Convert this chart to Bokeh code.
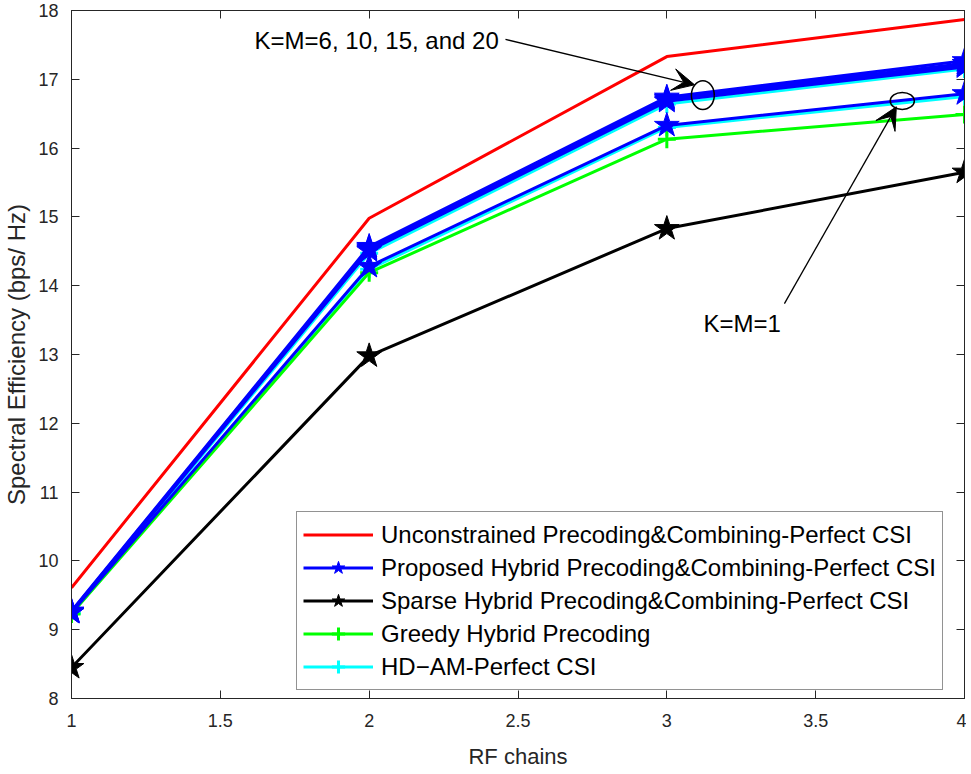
from bokeh.plotting import figure
from bokeh.models import (Range1d, LinearAxis, Legend, LegendItem, Arrow, VeeHead,
                          Label, FixedTicker)
from bokeh.embed import file_html
from bokeh.resources import INLINE

# ---------------- data ----------------
rf_chains = [1, 2, 3, 4]
unconstrained = [9.61, 14.98, 17.33, 17.87]
# proposed hybrid, K=M = 6, 10, 15, 20
proposed_k6 = [9.27, 14.57, 16.74, 17.27]
proposed_k10 = [9.26, 14.55, 16.72, 17.23]
proposed_k15 = [9.26, 14.53, 16.70, 17.20]
proposed_k20 = [9.25, 14.51, 16.68, 17.18]
# proposed hybrid, K=M = 1
proposed_k1 = [9.25, 14.28, 16.33, 16.79]
sparse = [8.45, 12.98, 14.83, 15.65]
greedy = [9.23, 14.19, 16.13, 16.49]
hdam_upper = [9.24, 14.47, 16.64, 17.15]
hdam_k1 = [9.24, 14.24, 16.30, 16.75]

x_ticks = [1, 1.5, 2, 2.5, 3, 3.5, 4]
y_ticks = [8, 9, 10, 11, 12, 13, 14, 15, 16, 17, 18]

labels = ["Unconstrained Precoding&Combining-Perfect CSI",
          "Proposed Hybrid Precoding&Combining-Perfect CSI",
          "Sparse Hybrid Precoding&Combining-Perfect CSI",
          "Greedy Hybrid Precoding",
          "HD\u2212AM-Perfect CSI"]

annot1_text = "K=M=6, 10, 15, and 20"
annot1_pos = (1.615, 17.57)
arrow1 = (2.458, 17.58, 3.093, 16.92)
ellipse1 = (3.121, 16.77, 0.077, 0.42)
annot2_text = "K=M=1"
annot2_pos = (3.123, 13.45)
arrow2 = (3.395, 13.74, 3.771, 16.60)
ellipse2 = (3.791, 16.685, 0.081, 0.247)

FONT = "Liberation Sans"
AX = "#262626"

p = figure(output_backend="svg", toolbar_location=None,
           frame_width=893, frame_height=688,
           min_border_left=68, min_border_top=10, min_border_right=2, min_border_bottom=72,
           x_range=Range1d(1, 4), y_range=Range1d(8, 18),
           background_fill_color="white", border_fill_color="white")
p.grid.visible = False
p.outline_line_color = AX
p.outline_line_width = 1

for ax in [p.xaxis[0], p.yaxis[0]]:
    ax.major_tick_in = 8
    ax.major_tick_out = 0
    ax.minor_tick_line_color = None
    ax.axis_line_color = AX
    ax.major_tick_line_color = AX
    ax.major_label_text_font = FONT
    ax.major_label_text_font_size = "18px"
    ax.major_label_text_color = AX
    ax.axis_label_text_font = FONT
    ax.axis_label_text_font_style = "normal"
    ax.axis_label_text_color = AX

p.xaxis[0].ticker = FixedTicker(ticks=x_ticks)
p.yaxis[0].ticker = FixedTicker(ticks=y_ticks)
p.xaxis[0].axis_label = "RF chains"
p.yaxis[0].axis_label = "Spectral Efficiency (bps/ Hz)"
p.xaxis[0].axis_label_text_font_size = "22px"
p.yaxis[0].axis_label_text_font_size = "24px"
p.xaxis[0].major_label_standoff = 15
p.yaxis[0].major_label_standoff = 13
p.xaxis[0].axis_label_standoff = 14
p.yaxis[0].axis_label_standoff = 5

for loc, tk in [("right", y_ticks), ("above", x_ticks)]:
    a = LinearAxis(ticker=FixedTicker(ticks=tk), major_label_text_color=None,
                   major_tick_in=8, major_tick_out=0, minor_tick_line_color=None,
                   axis_line_color=AX, major_tick_line_color=AX, major_label_standoff=0)
    p.add_layout(a, loc)

LW = 3
r_red = p.line(rf_chains, unconstrained, line_color="red", line_width=LW)

# HD-AM (cyan) first so blue sits on top
cyan_l = []
for series in [hdam_upper, hdam_k1]:
    l = p.line(rf_chains, series, line_color="cyan", line_width=LW)
    s = p.scatter(rf_chains, series, marker="cross", size=18, line_color="cyan", line_width=3)
    cyan_l.append((l, s))

r_green_l = p.line(rf_chains, greedy, line_color="#00ff00", line_width=LW)
r_green_s = p.scatter(rf_chains, greedy, marker="cross", size=18, line_color="#00ff00", line_width=3)

r_black_l = p.line(rf_chains, sparse, line_color="black", line_width=LW)
r_black_s = p.scatter(rf_chains, sparse, marker="star", size=26, line_color="black",
                      fill_color="black", line_width=1)

blue_l = []
for series in [proposed_k1, proposed_k20, proposed_k15, proposed_k10, proposed_k6]:
    l = p.line(rf_chains, series, line_color="blue", line_width=LW)
    s = p.scatter(rf_chains, series, marker="star", size=26, line_color="blue",
                  fill_color="blue", line_width=1)
    blue_l.append((l, s))

# annotations
p.add_layout(Label(x=annot1_pos[0], y=annot1_pos[1], text=annot1_text,
                   text_font=FONT, text_font_size="24px", text_color="black",
                   text_baseline="middle"))
p.add_layout(Label(x=annot2_pos[0], y=annot2_pos[1], text=annot2_text,
                   text_font=FONT, text_font_size="24px", text_color="black",
                   text_baseline="middle"))
for (xs, ys, xe, ye) in [arrow1, arrow2]:
    p.add_layout(Arrow(end=VeeHead(size=22, fill_color="black", line_color="black"),
                       x_start=xs, y_start=ys, x_end=xe, y_end=ye,
                       line_color="black", line_width=1.3))
for (cx, cy, w, h) in [ellipse1, ellipse2]:
    p.ellipse(x=[cx], y=[cy], width=[w], height=[h], fill_color=None,
              line_color="black", line_width=1.5)

items = [
    LegendItem(label=labels[0], renderers=[r_red]),
    LegendItem(label=labels[1], renderers=list(blue_l[0])),
    LegendItem(label=labels[2], renderers=[r_black_l, r_black_s]),
    LegendItem(label=labels[3], renderers=[r_green_l, r_green_s]),
    LegendItem(label=labels[4], renderers=list(cyan_l[0])),
]
leg = Legend(items=items, location=(225, 8), label_text_font=FONT,
             label_text_font_size="24px", label_text_color="black",
             glyph_width=70, glyph_height=33, label_height=33, spacing=0,
             padding=6, margin=0, label_standoff=8,
             border_line_color=AX, border_line_width=1,
             background_fill_alpha=1.0)
p.add_layout(leg, "center")

open("out.html", "w").write(file_html(p, INLINE))
